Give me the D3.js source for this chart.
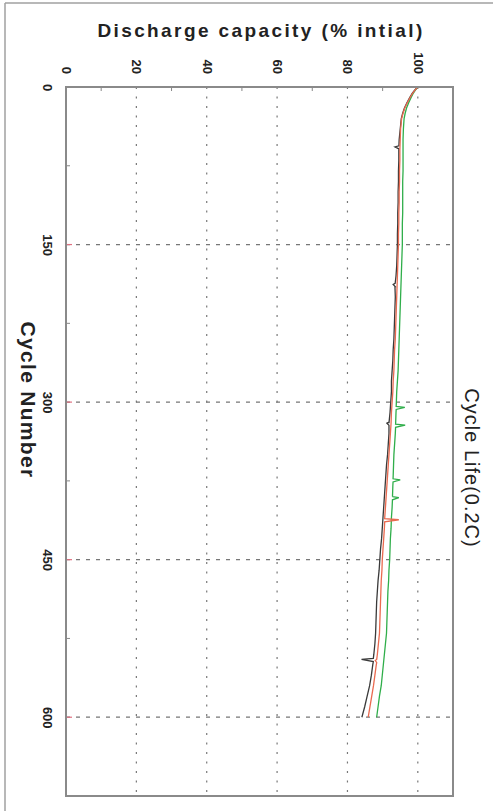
<!DOCTYPE html>
<html>
<head>
<meta charset="utf-8">
<script src="https://cdn.jsdelivr.net/npm/d3@7/dist/d3.min.js"></script>
<style>
  html, body { margin: 0; padding: 0; background: #fff; }
  svg { display: block; font-family: "Liberation Sans", Arial, sans-serif; }
</style>
</head>
<body>
<svg id="chart" width="493" height="811"></svg>
<script>
// ---- data ----
const capacityTicks = [0, 20, 40, 60, 80, 100];
const capacityMinor = [10, 30, 50, 70, 90];
const cycleTicks = [0, 150, 300, 450, 600];
const cycleMinor = [75, 225, 375, 525];

const cycles = [0, 3, 6, 10, 15, 20, 25, 30, 40, 50, 60, 70, 80, 90, 100, 110, 120, 130, 140, 150,
  160, 170, 180, 190, 200, 210, 220, 230, 240, 250, 260, 270, 280, 290, 300, 310, 320, 330, 340, 350,
  360, 370, 380, 390, 400, 410, 420, 430, 440, 450, 460, 470, 480, 490, 500, 510, 520, 530, 540, 550,
  560, 570, 580, 590, 600];

const blackValues = [100, 99.1, 98.4, 97.7, 96.9, 96.2, 95.7, 95.3, 95.0, 94.7, 94.6, 94.6, 94.5, 94.5, 94.4, 94.4, 94.3, 94.3, 94.2, 94.2,
  94.1, 94.0, 93.8, 93.5, 93.6, 93.5, 93.4, 93.3, 93.2, 93.0, 92.9, 92.7, 92.5, 92.5, 92.3, 92.1, 91.8, 91.8, 91.6, 91.4,
  91.1, 90.9, 90.7, 90.5, 90.3, 90.1, 89.9, 89.7, 89.4, 89.2, 89.0, 88.7, 88.5, 88.3, 88.2, 88.1, 88.0, 87.8, 87.5, 87.2,
  86.8, 86.3, 85.6, 84.9, 84.1];

const redValues = [100, 99.2, 98.5, 97.8, 97.0, 96.3, 95.8, 95.4, 95.1, 95.0, 94.9, 94.9, 94.8, 94.8, 94.7, 94.7, 94.6, 94.6, 94.5, 94.5,
  94.4, 94.3, 94.2, 94.1, 94.0, 93.9, 93.8, 93.7, 93.6, 93.4, 93.3, 93.2, 93.0, 92.9, 92.7, 92.5, 92.4, 92.2, 92.0, 91.8,
  91.6, 91.4, 91.2, 91.0, 90.8, 90.6, 90.5, 90.3, 90.1, 89.9, 89.8, 89.6, 89.5, 89.4, 89.3, 89.2, 89.1, 88.8, 88.5, 88.2,
  87.8, 87.4, 86.9, 86.4, 85.9];

const greenValues = [100, 99.3, 98.7, 98.1, 97.4, 96.8, 96.4, 96.1, 95.9, 95.8, 95.8, 95.8, 95.8, 95.7, 95.7, 95.7, 95.7, 95.6, 95.6, 95.6,
  95.5, 95.4, 95.3, 95.2, 95.1, 95.0, 94.9, 94.8, 94.7, 94.6, 94.5, 94.4, 94.2, 94.0, 93.9, 93.8, 93.7, 93.6, 93.4, 93.2,
  93.1, 93.0, 92.9, 92.8, 92.7, 92.5, 92.4, 92.2, 92.1, 92.0, 91.8, 91.7, 91.5, 91.4, 91.3, 91.2, 91.1, 90.8, 90.5, 90.2,
  89.9, 89.6, 89.1, 88.7, 88.3];

// occasional spikes (cycle, value)
const blackSpikeCycles = [57, 188, 320, 545];
const blackSpikeValues = [93.5, 93.0, 91.2, 84.0];
const redSpikeCycles = [412, 546];
const redSpikeValues = [94.6, 87.9];
const greenSpikeCycles = [305, 322, 374, 391];
const greenSpikeValues = [96.3, 96.4, 95.0, 94.6];

// ---- chart ----
const svg = d3.select("#chart");
const x = d3.scaleLinear().domain([0, 110]).range([66, 453]);
const y = d3.scaleLinear().domain([0, 675]).range([87, 796]);

// outer frame
svg.append("line").attr("x1", 5).attr("x2", 5).attr("y1", 3).attr("y2", 811).attr("stroke", "#a0a0a0").attr("stroke-width", 1.5);
svg.append("line").attr("x1", 5).attr("x2", 493).attr("y1", 3).attr("y2", 3).attr("stroke", "#a0a0a0").attr("stroke-width", 1.5);

// grid
svg.append("g").selectAll("line").data(capacityTicks.filter(d => d > 0)).join("line")
  .attr("x1", d => x(d)).attr("x2", d => x(d)).attr("y1", y(0)).attr("y2", y(675))
  .attr("stroke", "#777").attr("stroke-width", 1.2).attr("stroke-dasharray", "2,7.5");
svg.append("g").selectAll("line").data(cycleTicks.filter(d => d > 0)).join("line")
  .attr("x1", x(0)).attr("x2", x(110)).attr("y1", d => y(d)).attr("y2", d => y(d))
  .attr("stroke", "#777").attr("stroke-width", 1.2).attr("stroke-dasharray", "4,6");
// red short marks at left gridline starts
svg.append("g").selectAll("line").data(cycleTicks.filter(d => d > 0)).join("line")
  .attr("x1", x(0)).attr("x2", x(0) + 6).attr("y1", d => y(d)).attr("y2", d => y(d))
  .attr("stroke", "#e07080").attr("stroke-width", 1.2);

// minor ticks
svg.append("g").selectAll("line").data(capacityMinor).join("line")
  .attr("x1", d => x(d)).attr("x2", d => x(d)).attr("y1", y(0)).attr("y2", y(0) + 4)
  .attr("stroke", "#888");
svg.append("g").selectAll("line").data(cycleMinor).join("line")
  .attr("x1", x(0)).attr("x2", x(0) + 4).attr("y1", d => y(d)).attr("y2", d => y(d))
  .attr("stroke", "#888");

// series
function merge(cs, vs, sc, sv) {
  const pts = cs.map((c, i) => [c, vs[i]]);
  sc.forEach((c, i) => {
    const idx = pts.findIndex(p => p[0] > c);
    const prev = pts[idx - 1];
    const next = pts[idx];
    const base = prev[1] + (next[1] - prev[1]) * (c - prev[0]) / (next[0] - prev[0]);
    pts.splice(idx, 0, [c - 1, base], [c, sv[i]], [c + 2, base]);
  });
  return pts;
}
const line = d3.line().x(d => x(d[1])).y(d => y(d[0])).curve(d3.curveLinear);
const series = [
  { pts: merge(cycles, greenValues, greenSpikeCycles, greenSpikeValues), color: "#2fae4a" },
  { pts: merge(cycles, blackValues, blackSpikeCycles, blackSpikeValues), color: "#3a3a3a" },
  { pts: merge(cycles, redValues, redSpikeCycles, redSpikeValues), color: "#ea6a50" }
];
svg.append("g").selectAll("path").data(series).join("path")
  .attr("d", d => line(d.pts)).attr("fill", "none")
  .attr("stroke", d => d.color).attr("stroke-width", 1.3);

// frame of plot
svg.append("rect").attr("x", x(0)).attr("y", y(0)).attr("width", x(110) - x(0)).attr("height", y(675) - y(0))
  .attr("fill", "none").attr("stroke", "#8a8a8a").attr("stroke-width", 2);

// top axis (capacity)
const xAxis = svg.append("g").attr("transform", `translate(0,${y(0)})`)
  .call(d3.axisTop(x).tickValues(capacityTicks).tickSize(0).tickFormat(d3.format("d")));
xAxis.select(".domain").remove();
xAxis.selectAll("text")
  .attr("x", 0).attr("y", 0).attr("dy", null)
  .attr("transform", "translate(0,-13) rotate(90)")
  .attr("text-anchor", "end").attr("dominant-baseline", "central")
  .style("font-size", "13px").style("font-weight", "bold").style("fill", "#222")
  .style("font-family", "'Liberation Sans', Arial, sans-serif");

// left axis (cycle)
const yAxis = svg.append("g").attr("transform", `translate(${x(0)},0)`)
  .call(d3.axisLeft(y).tickValues(cycleTicks).tickSize(0).tickFormat(d3.format("d")));
yAxis.select(".domain").remove();
yAxis.selectAll("text")
  .attr("x", 0).attr("y", 0).attr("dy", null)
  .attr("transform", "translate(-23,0) rotate(90)")
  .attr("text-anchor", "middle")
  .style("font-size", "13px").style("font-weight", "bold").style("fill", "#222")
  .style("font-family", "'Liberation Sans', Arial, sans-serif");

// titles
svg.append("text").attr("x", 261).attr("y", 37).attr("text-anchor", "middle")
  .style("font-size", "19px").style("font-weight", "bold").style("fill", "#222").style("letter-spacing", "2.4px")
  .text("Discharge capacity (% intial)");
svg.append("text").attr("transform", "translate(21,400) rotate(90)").attr("text-anchor", "middle")
  .style("font-size", "21px").style("font-weight", "bold").style("fill", "#222").style("letter-spacing", "1.3px")
  .text("Cycle Number");
svg.append("text").attr("transform", "translate(465,468) rotate(90)").attr("text-anchor", "middle")
  .style("font-size", "20px").style("fill", "#222").style("letter-spacing", "1px")
  .text("Cycle Life(0.2C)");
</script>
</body>
</html>
